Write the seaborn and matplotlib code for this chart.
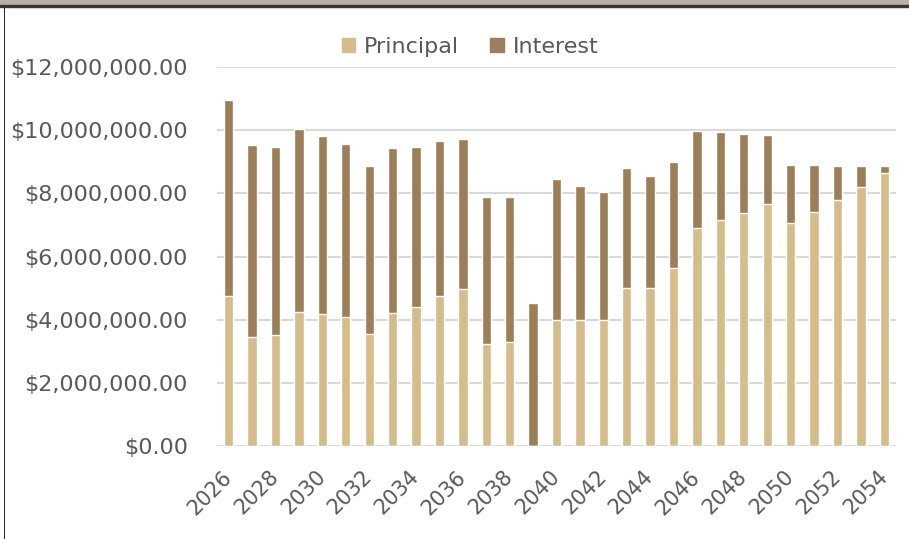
import matplotlib
matplotlib.use('Agg')
import matplotlib.pyplot as plt
import matplotlib.patches as mpatches
import seaborn as sns
import pandas as pd

years = list(range(2026, 2055))
principal = [4.75, 3.44, 3.51, 4.25, 4.17, 4.08, 3.54, 4.22, 4.41, 4.76,
             4.96, 3.22, 3.29, 0.0, 4.00, 4.00, 4.00, 5.00, 5.00, 5.64,
             6.91, 7.14, 7.38, 7.65, 7.05, 7.41, 7.79, 8.21, 8.64]
total = [10.95, 9.52, 9.46, 10.05, 9.80, 9.55, 8.85, 9.42, 9.48, 9.65,
         9.71, 7.87, 7.87, 4.54, 8.44, 8.23, 8.04, 8.81, 8.55, 8.98,
         9.98, 9.95, 9.89, 9.85, 8.89, 8.89, 8.88, 8.87, 8.86]
yticks = [0, 2, 4, 6, 8, 10, 12]

# millions -> dollars
df = pd.DataFrame({
    'year': [str(y) for y in years],
    'principal': [p * 1e6 for p in principal],
    'total': [t * 1e6 for t in total],
})
df['interest'] = df['total'] - df['principal']

c_prin = '#d4bc8c'
c_int = '#9c7e5a'

sns.set_style('white')
plt.rcParams['font.family'] = ['DejaVu Sans']

fig = plt.figure(figsize=(9.09, 5.39), dpi=100)
ax = fig.add_axes([217 / 909, 1 - 446 / 539, (896 - 217) / 909, (446 - 67) / 539])

# stacked: total in interest colour, principal drawn over it
sns.barplot(data=df, x='year', y='total', color=c_int, width=0.4,
            saturation=1, ax=ax, zorder=3)
sns.barplot(data=df, x='year', y='principal', color=c_prin, width=0.4,
            saturation=1, ax=ax, zorder=3)

ax.set_ylim(0, 12e6)
ax.set_xlim(-0.5, 28.5)
ax.set_yticks([v * 1e6 for v in yticks])
ax.set_yticklabels(['${:,.2f}'.format(v * 1e6) for v in yticks])
ax.yaxis.grid(True, color='#d9d9d9', lw=1.5, zorder=0)
ax.set_axisbelow(True)
ax.set_xticks(range(0, len(years), 2))
ax.set_xticklabels([str(y) for y in years[::2]], rotation=45, ha='right',
                   va='center', rotation_mode='anchor')
ax.tick_params(axis='y', length=0, pad=21, labelsize=16, labelcolor='#595959')
ax.tick_params(axis='x', length=0, pad=20, labelsize=15, labelcolor='#595959')
ax.set_xlabel('')
ax.set_ylabel('')
sns.despine(ax=ax, left=True, bottom=True)

handles = [mpatches.Patch(color=c_prin, label='Principal'),
           mpatches.Patch(color=c_int, label='Interest')]
fig.legend(handles=handles, loc='center', bbox_to_anchor=(0.517, 1 - 47 / 539),
           ncol=2, frameon=False, fontsize=16, labelcolor='#595959',
           handlelength=0.6, handleheight=0.6, handletextpad=0.4, columnspacing=1.4)

# window frame bits
fig.patches.append(mpatches.Rectangle((0, 1 - 5 / 539), 1, 5 / 539, transform=fig.transFigure,
                                      color='#b9b1a5', zorder=0))
fig.patches.append(mpatches.Rectangle((0, 1 - 7 / 539), 1, 2 / 539, transform=fig.transFigure,
                                      color='#3a3632', zorder=0))
fig.patches.append(mpatches.Rectangle((3.5 / 909, 0), 1.5 / 909, 1 - 7 / 539, transform=fig.transFigure,
                                      color='#2a2724', zorder=0, lw=0))

fig.savefig('out.png', dpi=100)
